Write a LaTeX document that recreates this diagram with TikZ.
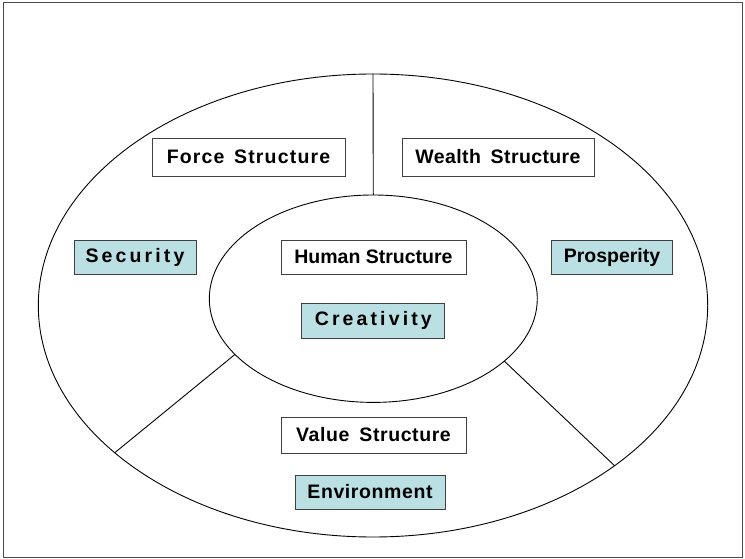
\documentclass[tikz,border=0pt]{standalone}
\usepackage{fontspec}
\setmainfont{Liberation Sans}
\usepackage{tikz}
\usetikzlibrary{calc}
\definecolor{tealpale}{HTML}{BBE0E3}
\def\ellpoint(#1)(#2:#3:#4)#5{\coordinate (#5) at ($(#1)+({#3*cos(#2)},{#4*sin(#2)})$);}
\tikzset{
  label box/.style={draw=black!75, line width=0.9pt, fill=white, inner sep=0pt,
    font=\fontsize{19.5}{22}\selectfont\bfseries},
  key box/.style={label box, fill=tealpale},
  spaced/.style={font=\fontsize{19.5}{22}\selectfont\bfseries\addfontfeature{LetterSpace=#1}}
}

\begin{document}
\begin{tikzpicture}[x=1pt, y=-1pt]
	%%%%% START %%%%%
	\useasboundingbox (0, 0) rectangle (745, 559);
	\draw[line width=1pt, color=black!70] (3, 3) rectangle (742, 557);

	\coordinate (outerc) at (373, 305.5);
	\coordinate (innerc) at (373.3, 298.7);
	\draw[line width=0.9pt] (outerc) ellipse (334.7 and 231.5);
	\draw[line width=0.9pt] (innerc) ellipse (164 and 103.7);

	\ellpoint(outerc)(-90:334.7:231.5){otop}
	\ellpoint(innerc)(-90:164:103.7){itop}
	\ellpoint(outerc)(140.5:334.7:231.5){oleft}
	\ellpoint(innerc)(147.5:164:103.7){ileft}
	\ellpoint(outerc)(43.8:334.7:231.5){oright}
	\ellpoint(innerc)(37:164:103.7){iright}

	\draw[line width=0.9pt] (otop) -- (itop);
	\draw[line width=0.9pt] (oleft) -- (ileft);
	\draw[line width=0.9pt] (oright) -- (iright);

	\node[label box, spaced=6, minimum width=193, minimum height=38] (force) at (248.5, 157) {Force\hspace{3pt} Structure};
	\node[label box, spaced=2, minimum width=192, minimum height=38] (wealth) at (498, 157) {Wealth\hspace{4pt} Structure};
	\node[key box, spaced=16, minimum width=122, minimum height=34] (security) at (135, 257) {Security};
	\node[label box, minimum width=185, minimum height=34] (human) at (373.5, 257) {Human Structure};
	\node[key box, minimum width=121, minimum height=34] (prosperity) at (612, 257) {Prosperity};
	\node[key box, spaced=16, minimum width=143, minimum height=35] (creativity) at (373.3, 320.8) {Creativity};
	\node[label box, spaced=3, minimum width=185, minimum height=36] (value) at (373.5, 435) {Value\hspace{4pt} Structure};
	\node[key box, spaced=3, minimum width=150, minimum height=34] (environment) at (370, 492) {Environment};
	%%%%% END %%%%%
\end{tikzpicture}
\end{document}
